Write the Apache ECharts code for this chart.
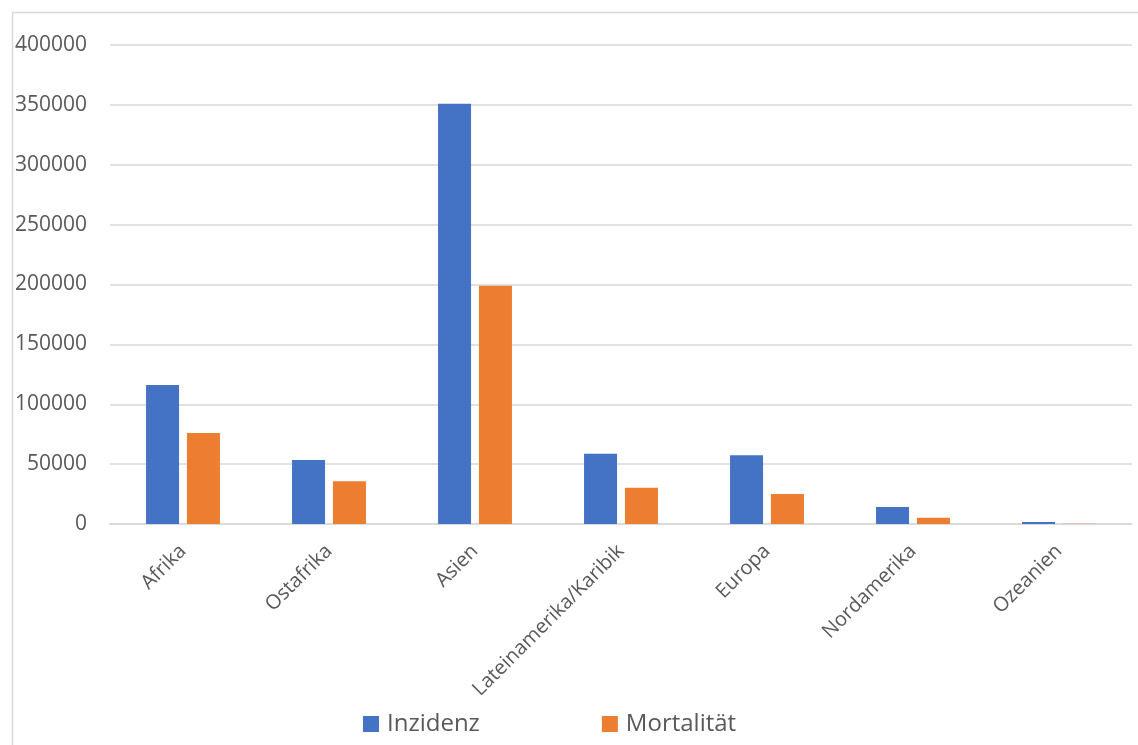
<!DOCTYPE html>
<html>
<head>
<meta charset="utf-8">
<script src="https://cdn.jsdelivr.net/npm/echarts@6/dist/echarts.min.js"></script>
<style>
  html, body { margin: 0; padding: 0; background: #fff; }
  #chart { width: 1138px; height: 745px; }
</style>
</head>
<body>
<div id="chart"></div>
<script>
// Regions on the category axis
const regions = ['Afrika', 'Ostafrika', 'Asien', 'Lateinamerika/Karibik', 'Europa', 'Nordamerika', 'Ozeanien'];

// New cases and deaths per region
const inzidenz = [116000, 53500, 351000, 58700, 57400, 14200, 1700];
const mortalitaet = [76000, 35600, 199000, 30300, 25000, 5300, 200];

// Series names shown in the legend
const seriesNames = ['Inzidenz', 'Mortalität'];

const FONT = '"Open Sans", "Noto Sans", sans-serif';
const TEXT = '#595959';

const chart = echarts.init(document.getElementById('chart'), null, { renderer: 'canvas' });

chart.setOption({
  animation: false,
  backgroundColor: '#ffffff',
  color: ['#4472c4', '#ed7d31'],
  graphic: [{
    type: 'rect',
    left: 10, top: 10,
    shape: { width: 1140, height: 750 },
    style: { fill: 'none', stroke: '#d9d9d9', lineWidth: 1.5 },
    silent: true,
    z: -1
  }],
  grid: { left: 110, right: 6, top: 45, bottom: 221, containLabel: false },
  legend: {
    data: seriesNames,
    left: 363,
    top: 712,
    padding: 0,
    itemWidth: 16,
    itemHeight: 16,
    itemGap: 122,
    icon: 'rect',
    textStyle: { fontFamily: FONT, fontSize: 24, color: TEXT, padding: [0, 0, 0, 3] }
  },
  xAxis: {
    type: 'category',
    data: regions,
    axisLine: { show: true, lineStyle: { color: '#d9d9d9', width: 1.5 } },
    axisTick: { show: false },
    axisLabel: {
      rotate: 45,
      interval: 0,
      margin: 24,
      fontFamily: FONT,
      fontSize: 20,
      color: TEXT
    }
  },
  yAxis: {
    type: 'value',
    min: 0,
    max: 400000,
    interval: 50000,
    axisLine: { show: false },
    axisTick: { show: false },
    splitLine: { lineStyle: { color: '#d9d9d9', width: 1.5 } },
    axisLabel: {
      margin: 23,
      fontFamily: FONT,
      fontSize: 21,
      color: TEXT,
      formatter: function (v) { return String(v); }
    }
  },
  series: [
    {
      name: seriesNames[0],
      type: 'bar',
      data: inzidenz,
      barWidth: 33,
      barGap: '24%'
    },
    {
      name: seriesNames[1],
      type: 'bar',
      data: mortalitaet,
      barWidth: 33,
      barGap: '24%'
    }
  ]
});
</script>
</body>
</html>
